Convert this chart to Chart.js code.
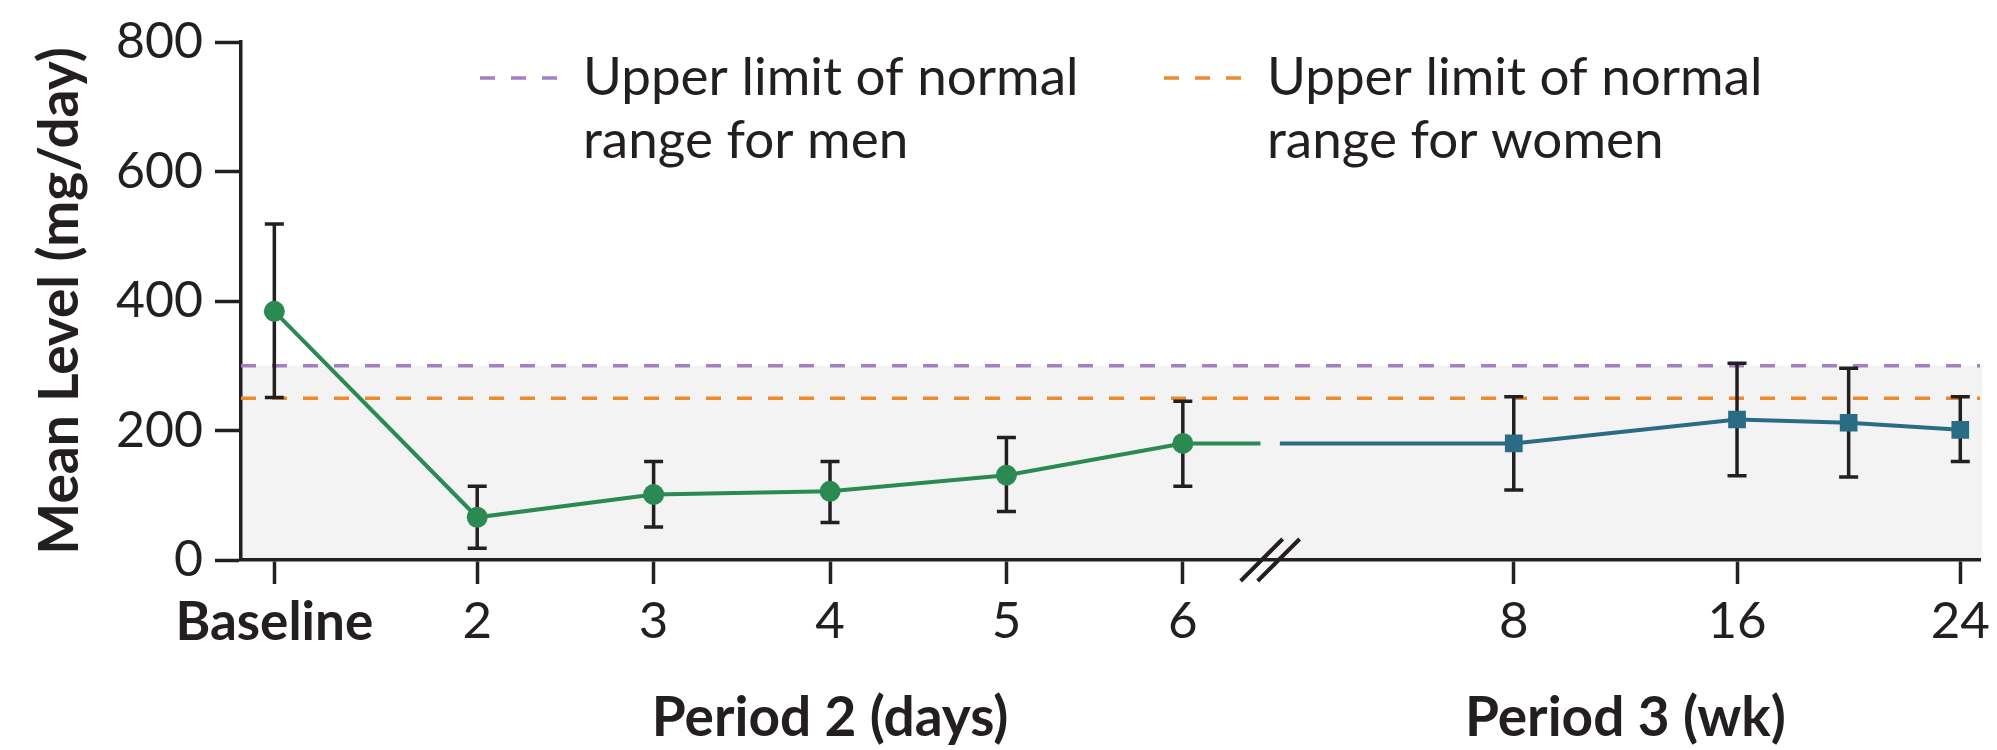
<!DOCTYPE html>
<html>
<head>
<meta charset="utf-8">
<script src="https://cdn.jsdelivr.net/npm/chart.js@4.4.1/dist/chart.umd.min.js"></script>
<style>
  html, body { margin: 0; padding: 0; background: #fff; }
  #wrap { width: 1997px; height: 750px; }
</style>
</head>
<body>
<div id="wrap"><canvas id="chart" width="1997" height="750"></canvas></div>
<script>
// period 2 (days)
const period2Labels = ["Baseline", "2", "3", "4", "5", "6"];
const period2Pos = [0.85, 2, 3, 4, 5, 6];
const period2Mean = [384, 66, 101, 106, 131, 180];
const period2Low = [251, 18, 51, 58, 75, 114];
const period2High = [519, 114, 152, 152, 189, 245];
const period2TailPos = 6.44;

// period 3 (weeks)
const period3Weeks = [8, 16, 20, 24];
const period3Mean = [180, 217, 212, 201];
const period3Low = [108, 130, 128, 152];
const period3High = [252, 304, 296, 252];
const period3TickWeeks = [8, 16, 24];
const period3HeadPos = 6.55;

const yTicks = [0, 200, 400, 600, 800];
const upperMen = 300;
const upperWomen = 250;
const legendLabels = [
  ["Upper limit of normal", "range for men"],
  ["Upper limit of normal", "range for women"]
];

// weeks share the day axis, placed after the break
const weekPos = w => 7.876 + (w - 8) * 0.1582;
const xMin = 0.661, xMax = 10.52;

const FONT = "Lato, 'Open Sans', sans-serif";
const INK = "#231f20";
const GREEN = "#2b8a52";
const BLUE = "#2a6b86";
const PURPLE = "#a47fc2";
const ORANGE = "#ec8b2c";
const SHADE = "#f3f3f3";

const tickPos = [...period2Pos, ...period3TickWeeks.map(weekPos)];
const tickLabels = [...period2Labels, ...period3TickWeeks.map(String)];

function drawErrors(chart, xs, lows, highs) {
  const { ctx, scales: { x, y } } = chart;
  ctx.save();
  ctx.strokeStyle = INK;
  ctx.lineWidth = 3.5;
  xs.forEach((v, i) => {
    const px = x.getPixelForValue(v);
    const lo = y.getPixelForValue(lows[i]);
    const hi = y.getPixelForValue(highs[i]);
    ctx.beginPath();
    ctx.moveTo(px, lo); ctx.lineTo(px, hi);
    ctx.moveTo(px - 9.5, lo); ctx.lineTo(px + 9.5, lo);
    ctx.moveTo(px - 9.5, hi); ctx.lineTo(px + 9.5, hi);
    ctx.stroke();
  });
  ctx.restore();
}

const decor = {
  id: "decor",
  beforeDraw(chart) {
    const { ctx, chartArea: a, scales: { y } } = chart;
    const top = y.getPixelForValue(upperMen);
    ctx.save();
    ctx.fillStyle = SHADE;
    ctx.fillRect(a.left, top, a.right - a.left + 2, y.getPixelForValue(0) - top);
    ctx.restore();
  },
  beforeDatasetDraw(chart, args) {
    if (args.index === 0) drawErrors(chart, period2Pos, period2Low, period2High);
    if (args.index === 1) drawErrors(chart, period3Weeks.map(weekPos), period3Low, period3High);
  },
  afterDraw(chart) {
    const { ctx, scales: { x, y } } = chart;
    ctx.save();
    // axis break
    const gx = (x.getPixelForValue(period2TailPos) + x.getPixelForValue(period3HeadPos)) / 2;
    const by = y.getPixelForValue(0);
    ctx.strokeStyle = INK;
    ctx.lineWidth = 4;
    ctx.beginPath();
    [-8.5, 8.5].forEach(dx => {
      ctx.moveTo(gx + dx - 21, by + 21);
      ctx.lineTo(gx + dx + 21, by - 21);
    });
    ctx.stroke();

    // period titles
    ctx.fillStyle = INK;
    ctx.font = "bold 55px " + FONT;
    ctx.textAlign = "center";
    ctx.textBaseline = "alphabetic";
    ctx.fillText("Period 2 (days)", x.getPixelForValue(4), 736);
    ctx.fillText("Period 3 (wk)", x.getPixelForValue(weekPos(12)), 736);

    // legend
    const items = [{ color: PURPLE, left: 480 }, { color: ORANGE, left: 1164 }];
    ctx.textAlign = "left";
    ctx.font = "53px " + FONT;
    items.forEach((it, i) => {
      ctx.strokeStyle = it.color;
      ctx.lineWidth = 3.5;
      ctx.beginPath();
      for (let k = 0; k < 3; k++) {
        ctx.moveTo(it.left + k * 31, 78);
        ctx.lineTo(it.left + k * 31 + 15, 78);
      }
      ctx.stroke();
      ctx.fillStyle = INK;
      ctx.fillText(legendLabels[i][0], it.left + 103, 95);
      ctx.fillText(legendLabels[i][1], it.left + 103, 158);
    });
    ctx.restore();
  }
};

const dashed = (val, color) => ({
  data: [{ x: xMin, y: val }, { x: xMax, y: val }],
  borderColor: color,
  borderWidth: 3.5,
  borderDash: [15, 16],
  pointRadius: 0,
  order: 2
});

new Chart(document.getElementById("chart"), {
  type: "line",
  data: {
    datasets: [
      {
        data: [...period2Pos.map((v, i) => ({ x: v, y: period2Mean[i] })),
               { x: period2TailPos, y: period2Mean[period2Mean.length - 1] }],
        borderColor: GREEN,
        backgroundColor: GREEN,
        borderWidth: 4,
        pointRadius: c => c.dataIndex < period2Pos.length ? 10.5 : 0,
        pointBorderWidth: 0,
        order: 0
      },
      {
        data: [{ x: period3HeadPos, y: period3Mean[0] },
               ...period3Weeks.map((w, i) => ({ x: weekPos(w), y: period3Mean[i] }))],
        borderColor: BLUE,
        backgroundColor: BLUE,
        borderWidth: 4,
        pointStyle: "rect",
        pointRadius: c => c.dataIndex > 0 ? 12.5 : 0,
        pointBorderWidth: 0,
        order: 1
      },
      dashed(upperMen, PURPLE),
      dashed(upperWomen, ORANGE)
    ]
  },
  options: {
    responsive: false,
    animation: false,
    devicePixelRatio: 1,
    layout: { padding: { left: 0, right: 11, top: 42, bottom: 0 } },
    plugins: { legend: { display: false }, tooltip: { enabled: false } },
    scales: {
      x: {
        type: "linear",
        min: xMin,
        max: xMax,
        afterBuildTicks: s => { s.ticks = tickPos.map(v => ({ value: v })); },
        afterFit: s => { s.height = 190; },
        ticks: {
          autoSkip: false,
          maxRotation: 0,
          padding: 7,
          color: INK,
          font: c => ({ family: FONT, size: c.index === 0 ? 53 : 51, weight: c.index === 0 ? "bold" : "normal" }),
          callback: (v, i) => tickLabels[i]
        },
        grid: { drawOnChartArea: false, drawTicks: true, tickLength: 24, tickWidth: 3.5, tickColor: INK },
        border: { display: true, color: INK, width: 3.5 }
      },
      y: {
        min: 0,
        max: 800,
        afterBuildTicks: s => { s.ticks = yTicks.map(v => ({ value: v })); },
        afterFit: s => { s.width = 241; },
        ticks: { padding: 12, color: INK, font: { family: FONT, size: 50 } },
        grid: { drawOnChartArea: false, drawTicks: true, tickLength: 26, tickWidth: 3.5, tickColor: INK },
        border: { display: true, color: INK, width: 3.5 },
        title: {
          display: true,
          text: "Mean Level (mg/day)",
          color: INK,
          font: { family: FONT, size: 55, weight: "bold" },
          padding: { top: 27, bottom: 0 }
        }
      }
    }
  },
  plugins: [decor]
});
</script>
</body>
</html>
